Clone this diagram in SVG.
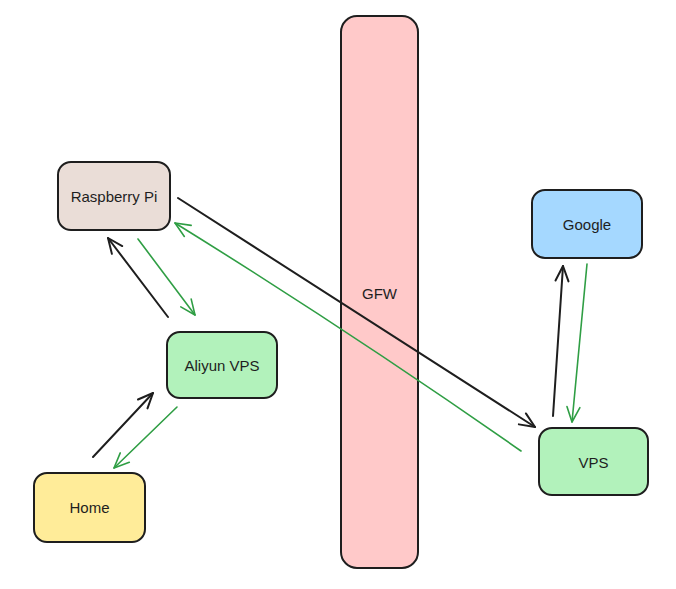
<svg xmlns="http://www.w3.org/2000/svg" width="676" height="589" viewBox="0 0 676 589">
<style>
.box{stroke:#1e1e1e;stroke-width:2}
.lbl{font-family:"Liberation Sans",Arial,sans-serif;font-size:15px;fill:#1e1e1e;text-anchor:middle;dominant-baseline:central}
.ab{fill:none;stroke:#1e1e1e;stroke-width:2;stroke-linecap:round}
.ag{fill:none;stroke:#2f9e44;stroke-width:1.6;stroke-linecap:round}
</style>
<defs>
<marker id="mb" markerUnits="userSpaceOnUse" markerWidth="30" markerHeight="30" viewBox="-20 -15 30 30" refX="0" refY="0" orient="auto" overflow="visible">
<path d="M-15,-6.5 L0,0 L-15,6.5" fill="none" stroke="#1e1e1e" stroke-width="2" stroke-linecap="round" stroke-linejoin="round"/>
</marker>
<marker id="mg" markerUnits="userSpaceOnUse" markerWidth="30" markerHeight="30" viewBox="-20 -15 30 30" refX="0" refY="0" orient="auto" overflow="visible">
<path d="M-15,-6.5 L0,0 L-15,6.5" fill="none" stroke="#2f9e44" stroke-width="1.6" stroke-linecap="round" stroke-linejoin="round"/>
</marker>
</defs>
<rect width="676" height="589" fill="#ffffff"/>
<g id="gfw">
<rect class="box" x="341" y="16" width="77" height="552" rx="16" fill="#ffc9c9"/>
<text class="lbl" x="379.5" y="293">GFW</text>
</g>
<g id="raspberry-pi">
<rect class="box" x="58" y="162" width="112" height="68" rx="13" fill="#eaddd7"/>
<text class="lbl" x="114" y="196">Raspberry Pi</text>
</g>
<g id="aliyun-vps">
<rect class="box" x="167" y="332" width="110" height="66" rx="13" fill="#b2f2bb"/>
<text class="lbl" x="222" y="365">Aliyun VPS</text>
</g>
<g id="home">
<rect class="box" x="34" y="473" width="111" height="69" rx="13" fill="#ffec99"/>
<text class="lbl" x="89.5" y="507.5">Home</text>
</g>
<g id="google">
<rect class="box" x="532" y="190" width="110" height="68" rx="13" fill="#a5d8ff"/>
<text class="lbl" x="587" y="224">Google</text>
</g>
<g id="vps">
<rect class="box" x="539" y="428" width="109" height="67" rx="13" fill="#b2f2bb"/>
<text class="lbl" x="593.5" y="462">VPS</text>
</g>
<g id="connectors">
<path class="ab" d="M178,198 L535,427" marker-end="url(#mb)"/>
<path class="ag" d="M521,451 Q351,332 175,223" marker-end="url(#mg)"/>
<path class="ab" d="M168,317 L108,238" marker-end="url(#mb)"/>
<path class="ag" d="M138,239 L195,315" marker-end="url(#mg)"/>
<path class="ab" d="M93,457 L153,393" marker-end="url(#mb)"/>
<path class="ag" d="M177,407 L114,468" marker-end="url(#mg)"/>
<path class="ab" d="M553,416 L563,266" marker-end="url(#mb)"/>
<path class="ag" d="M587,264 L572,422" marker-end="url(#mg)"/>
</g>
</svg>
